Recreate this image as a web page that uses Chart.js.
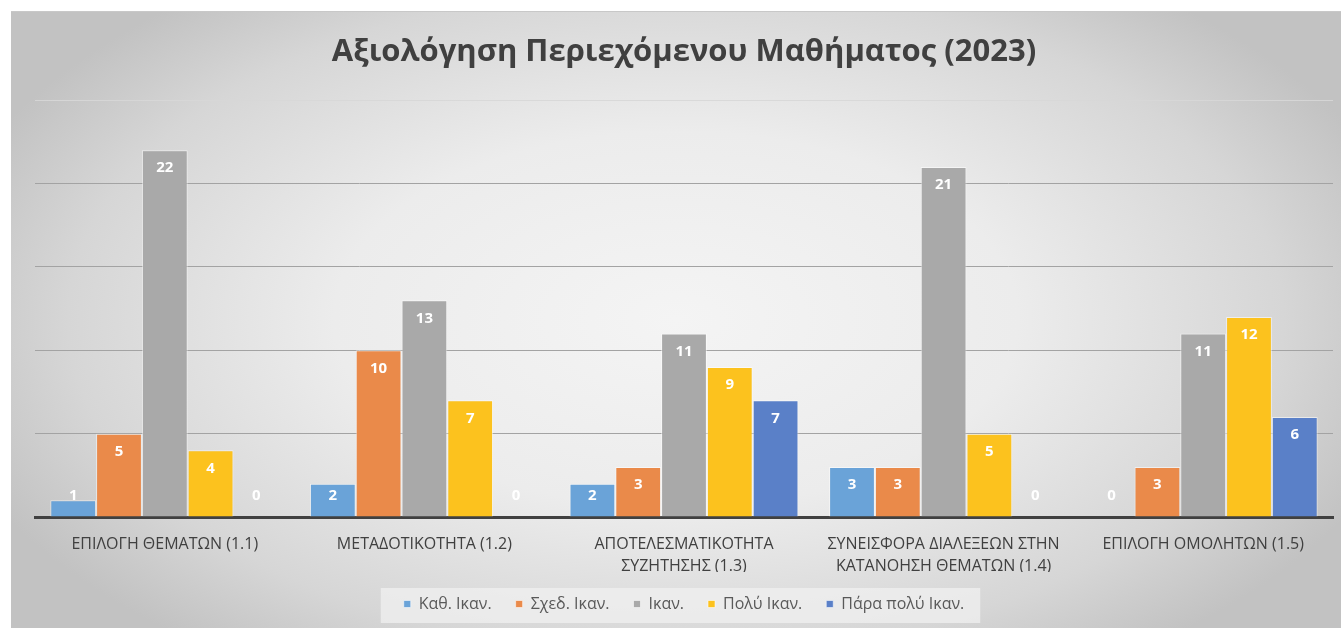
<!DOCTYPE html>
<html>
<head>
<meta charset="utf-8">
<script src="https://cdn.jsdelivr.net/npm/chart.js@4.4.1/dist/chart.umd.min.js"></script>
<style>
html,body{margin:0;padding:0;background:#fff;}
#wrap{width:1341px;height:628px;position:relative;}
</style>
</head>
<body>
<div id="wrap"><canvas id="c" width="1341" height="628"></canvas></div>
<script>
const categories = [
  ['ΕΠΙΛΟΓΗ ΘΕΜΑΤΩΝ (1.1)'],
  ['ΜΕΤΑΔΟΤΙΚΟΤΗΤΑ (1.2)'],
  ['ΑΠΟΤΕΛΕΣΜΑΤΙΚΟΤΗΤΑ', 'ΣΥΖΗΤΗΣΗΣ (1.3)'],
  ['ΣΥΝΕΙΣΦΟΡΑ ΔΙΑΛΕΞΕΩΝ ΣΤΗΝ', 'ΚΑΤΑΝΟΗΣΗ ΘΕΜΑΤΩΝ (1.4)'],
  ['ΕΠΙΛΟΓΗ ΟΜΟΛΗΤΩΝ (1.5)']
];
const seriesNames = ['Καθ. Ικαν.', 'Σχεδ. Ικαν.', 'Ικαν.', 'Πολύ Ικαν.', 'Πάρα πολύ Ικαν.'];
const kath = [1, 2, 2, 3, 0];
const sxed = [5, 10, 3, 3, 3];
const ikan = [22, 13, 11, 21, 11];
const poly = [4, 7, 9, 5, 12];
const paraPoly = [0, 0, 7, 0, 6];
const seriesColors = ['#6aa3d8', '#ea8a4a', '#a9a9a9', '#fcc21e', '#5a80c8'];
const titleText = 'Αξιολόγηση Περιεχόμενου Μαθήματος (2023)';

const FONT = "'Open Sans', 'DejaVu Sans', sans-serif";

const bgPlugin = {
  id: 'bg',
  beforeDraw(chart) {
    const ctx = chart.ctx;
    const W = chart.width, H = chart.height;
    ctx.save();
    ctx.fillStyle = '#ffffff';
    ctx.fillRect(0, 0, W, H);
    const x0 = 11, y0 = 11;
    const cx = (x0 + W) / 2, cy = (y0 + H) / 2;
    ctx.save();
    ctx.beginPath();
    ctx.rect(x0, y0, W - x0, H - y0);
    ctx.clip();
    ctx.translate(cx, cy);
    ctx.scale(1, 0.55);
    const r = 760;
    const g = ctx.createRadialGradient(0, 0, 0, 0, 0, r);
    g.addColorStop(0, '#f4f4f4');
    g.addColorStop(0.45, '#ececec');
    g.addColorStop(0.8, '#d6d6d6');
    g.addColorStop(1, '#c2c2c2');
    ctx.fillStyle = g;
    ctx.fillRect(-r, -r / 0.55, 2 * r, 2 * r / 0.55);
    ctx.restore();
    ctx.strokeStyle = '#c8c8c8';
    ctx.lineWidth = 1;
    ctx.beginPath();
    ctx.moveTo(x0, y0 + 0.5);
    ctx.lineTo(W, y0 + 0.5);
    ctx.stroke();
    const lg = chart.legend;
    if (lg && lg.legendHitBoxes && lg.legendHitBoxes.length) {
      const hb = lg.legendHitBoxes;
      let l = Infinity, rr = -Infinity;
      hb.forEach(b => { l = Math.min(l, b.left); rr = Math.max(rr, b.left + b.width); });
      ctx.fillStyle = 'rgba(240,240,240,0.75)';
      ctx.fillRect(l - 23, hb[0].top - 8, rr - l + 39, hb[0].height + 19);
    }
    ctx.restore();
  }
};

const labelPlugin = {
  id: 'barLabels',
  afterDatasetsDraw(chart) {
    const ctx = chart.ctx;
    ctx.save();
    ctx.font = "bold 15px " + FONT;
    ctx.fillStyle = '#ffffff';
    ctx.textAlign = 'center';
    ctx.textBaseline = 'middle';
    chart.data.datasets.forEach((ds, i) => {
      const meta = chart.getDatasetMeta(i);
      meta.data.forEach((el, j) => {
        const v = ds.data[j];
        const y = Math.min(el.y + 18, el.base - 21);
        ctx.fillText(String(v), el.x, y);
      });
    });
    ctx.restore();
  }
};

const dataArrays = [kath, sxed, ikan, poly, paraPoly];

new Chart(document.getElementById('c'), {
  type: 'bar',
  data: {
    labels: categories,
    datasets: seriesNames.map((n, i) => ({
      label: n,
      data: dataArrays[i],
      backgroundColor: seriesColors[i],
      borderColor: 'rgba(255,255,255,0.55)',
      borderWidth: 1,
      categoryPercentage: 0.882,
      barPercentage: 1.0
    }))
  },
  options: {
    responsive: false,
    animation: false,
    devicePixelRatio: 1,
    layout: { padding: { left: 35, right: 8, top: 0, bottom: 6 } },
    plugins: {
      title: {
        display: true,
        text: titleText,
        color: '#404040',
        font: { family: FONT, size: 31, weight: 'bold' },
        padding: { top: 34, bottom: 29 }
      },
      legend: {
        position: 'bottom',
        labels: {
          color: '#595959',
          font: { family: FONT, size: 16 },
          boxWidth: 7,
          boxHeight: 7,
          padding: 24
        }
      },
      tooltip: { enabled: false }
    },
    scales: {
      x: {
        grid: { display: false, drawTicks: false },
        border: { display: true, color: '#404040', width: 3 },
        ticks: {
          color: '#404040',
          font: { family: FONT, size: 16, lineHeight: 1.375 },
          padding: 16,
          maxRotation: 0,
          autoSkip: false
        },
        afterFit(axis) { axis.height = 55; }
      },
      y: {
        min: 0,
        max: 25,
        ticks: { display: false, stepSize: 5 },
        border: { display: false },
        grid: {
          drawTicks: false,
          tickLength: 0,
          color: (c) => c.tick && c.tick.value === 25 ? 'rgba(215,215,215,0.9)' : (c.tick && c.tick.value === 0 ? 'rgba(0,0,0,0)' : '#a3a3a3'),
          lineWidth: 1
        },
        afterFit(axis) { axis.width = 0; }
      }
    }
  },
  plugins: [bgPlugin, labelPlugin]
});
</script>
</body>
</html>
